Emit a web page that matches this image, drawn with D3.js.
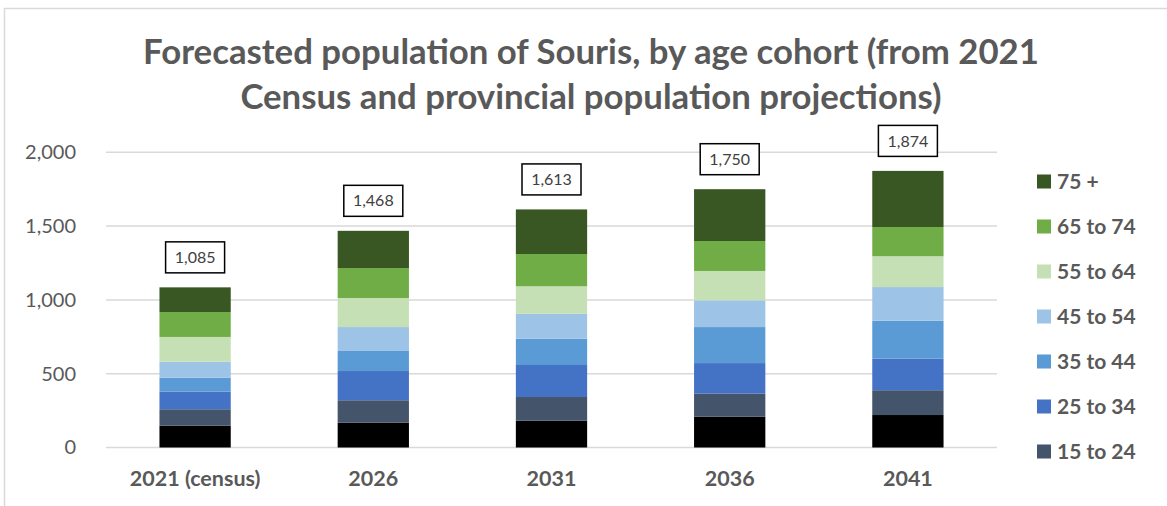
<!DOCTYPE html>
<html>
<head>
<meta charset="utf-8">
<script src="https://cdn.jsdelivr.net/npm/d3@7"></script>
<style>
  html, body { margin: 0; padding: 0; background: #fff; }
  svg { display: block; }
</style>
</head>
<body>
<svg id="stage" width="1167" height="506"></svg>
<script>
var years = ['2021 (census)', '2026', '2031', '2036', '2041'];
var cohorts = ['0 to 14', '15 to 24', '25 to 34', '35 to 44', '45 to 54', '55 to 64', '65 to 74', '75 +'];
var colours = ['#000000', '#44546A', '#4472C4', '#5B9BD5', '#9DC3E6', '#C5E0B4', '#70AD47', '#385723'];

// one array per cohort, in the order of years
var age0to14  = [148, 168, 182, 209, 220];
var age15to24 = [111, 152, 160, 156, 168];
var age25to34 = [119, 198, 217, 207, 214];
var age35to44 = [95, 136, 178, 244, 257];
var age45to54 = [108, 162, 169, 181, 228];
var age55to64 = [168, 197, 186, 199, 209];
var age65to74 = [169, 203, 219, 203, 198];
var age75plus = [167, 252, 302, 351, 380];
var totals = [1085, 1468, 1613, 1750, 1874];
var yTicks = [0, 500, 1000, 1500, 2000];

var seriesValues = [age0to14, age15to24, age25to34, age35to44, age45to54, age55to64, age65to74, age75plus];

var svg = d3.select('#stage'),
    GREY = '#595959',
    FONT = 'Lato, "Open Sans", sans-serif',
    LEFT = 106,
    RIGHT = 997,
    TOP = 152.3,
    BOTTOM = 447.5;

var rows = years.map(function (y, i) {
  var r = { year: y };
  cohorts.forEach(function (c, k) { r[c] = seriesValues[k][i]; });
  return r;
});

var x = d3.scaleBand().domain(years).range([LEFT, RIGHT]).paddingInner(0.6).paddingOuter(0.3);
var y = d3.scaleLinear().domain([0, 2000]).range([BOTTOM, TOP]);
var colour = d3.scaleOrdinal().domain(cohorts).range(colours);
var stacked = d3.stack().keys(cohorts)(rows);

// chart frame
svg.append('rect')
  .attr('x', 4.5).attr('y', 8.5)
  .attr('width', 1175).attr('height', 520)
  .attr('fill', 'none').attr('stroke', '#D9D9D9').attr('stroke-width', 1.5);

// title, scaled to the width it has in the picture
var title = svg.append('text')
  .attr('text-anchor', 'middle')
  .attr('font-family', FONT)
  .attr('font-weight', 'bold')
  .attr('fill', GREY);
title.append('tspan').attr('x', 591).attr('y', 64).text('Forecasted population of Souris, by age cohort (from 2021');
title.append('tspan').attr('x', 591).attr('y', 109).text('Census and provincial population projections)');
title.attr('font-size', 32);
var w = title.select('tspan').node().getComputedTextLength();
title.attr('font-size', 32 * 896 / w);

// gridlines
svg.append('g')
  .selectAll('line')
  .data(yTicks)
  .join('line')
    .attr('x1', LEFT).attr('x2', RIGHT)
    .attr('y1', function (d) { return y(d); })
    .attr('y2', function (d) { return y(d); })
    .attr('stroke', '#D9D9D9')
    .attr('stroke-width', 1.5);

// y axis labels
var yAxis = svg.append('g')
  .attr('transform', 'translate(' + (LEFT - 30) + ',0)')
  .call(d3.axisLeft(y).tickValues(yTicks).tickFormat(d3.format(',')).tickSize(0).tickPadding(0));
yAxis.select('.domain').remove();
yAxis.selectAll('text')
  .attr('font-family', FONT)
  .attr('font-size', 20)
  .attr('fill', GREY);

// x axis labels
var xAxis = svg.append('g')
  .attr('transform', 'translate(0,' + (BOTTOM + 23) + ')')
  .call(d3.axisBottom(x).tickSize(0).tickPadding(0));
xAxis.select('.domain').remove();
xAxis.selectAll('text')
  .attr('font-family', FONT)
  .attr('font-size', 21.5)
  .attr('font-weight', 'bold')
  .attr('fill', GREY);

// stacked bars
svg.append('g')
  .selectAll('g')
  .data(stacked)
  .join('g')
    .attr('fill', function (d) { return colour(d.key); })
  .selectAll('rect')
  .data(function (d) { return d; })
  .join('rect')
    .attr('x', function (d) { return x(d.data.year); })
    .attr('y', function (d) { return y(d[1]); })
    .attr('width', x.bandwidth())
    .attr('height', function (d) { return y(d[0]) - y(d[1]); });

// total labels in boxes
var labels = svg.append('g')
  .selectAll('g')
  .data(years)
  .join('g')
    .attr('transform', function (d, i) {
      return 'translate(' + (x(d) + x.bandwidth() / 2) + ',' + (y(totals[i]) - 30) + ')';
    });

labels.append('rect')
  .attr('x', -29.5).attr('y', -15.5)
  .attr('width', 59).attr('height', 31)
  .attr('fill', '#fff')
  .attr('stroke', '#000')
  .attr('stroke-width', 1.5);

labels.append('text')
  .attr('text-anchor', 'middle')
  .attr('dy', '0.35em')
  .attr('font-family', FONT)
  .attr('font-size', 16)
  .attr('fill', '#404040')
  .text(function (d, i) { return d3.format(',')(totals[i]); });

// legend, top series first; the bottom cohort does not fit in the frame
var legendItems = cohorts.slice(1).reverse();
var legend = svg.append('g')
  .selectAll('g')
  .data(legendItems)
  .join('g')
    .attr('transform', function (d, i) { return 'translate(1037,' + (181.5 + i * 45) + ')'; });

legend.append('rect')
  .attr('x', 0).attr('y', -7)
  .attr('width', 14).attr('height', 14)
  .attr('fill', function (d) { return colour(d); });

legend.append('text')
  .attr('x', 20)
  .attr('dy', '0.35em')
  .attr('font-family', FONT)
  .attr('font-size', 21)
  .attr('font-weight', 'bold')
  .attr('fill', GREY)
  .text(function (d) { return d; });
</script>
</body>
</html>
